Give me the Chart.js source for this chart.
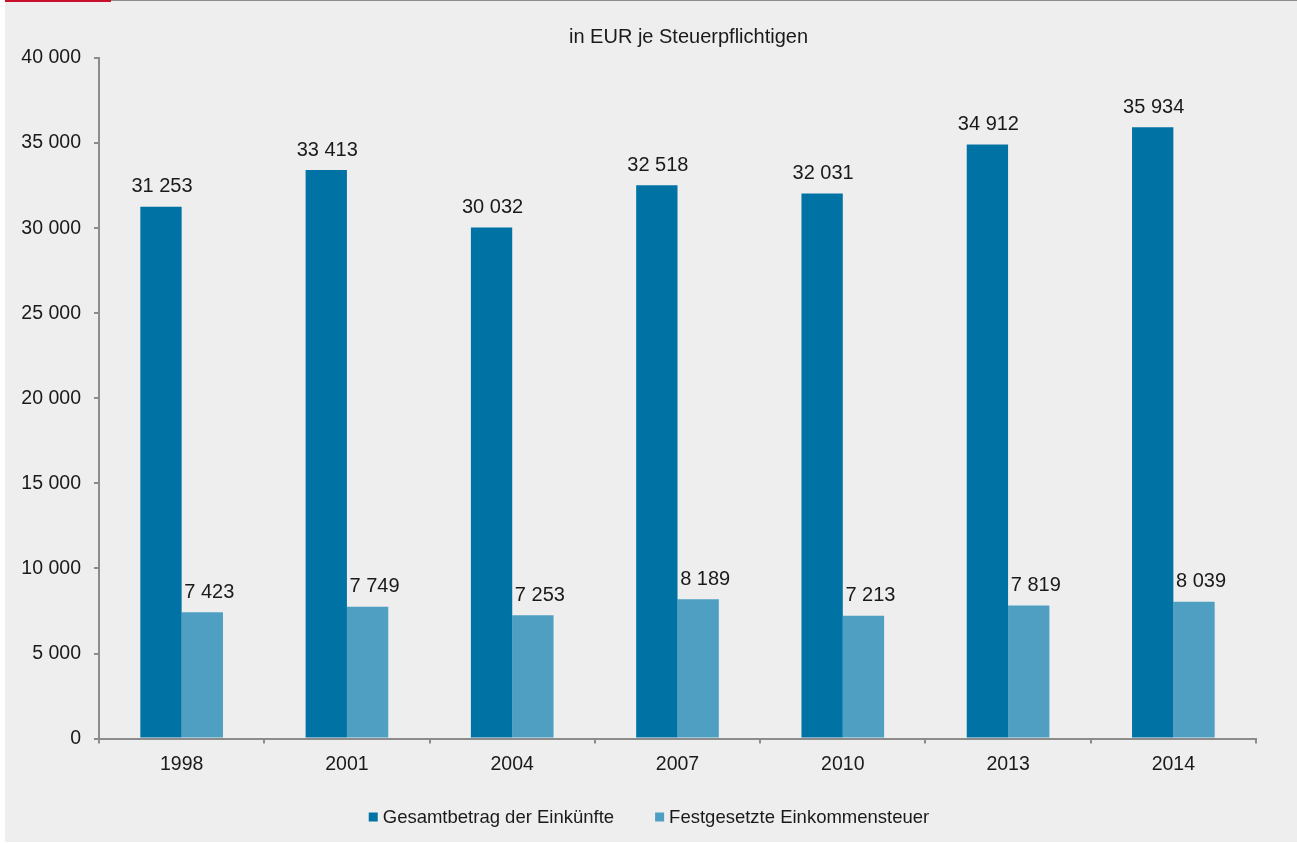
<!DOCTYPE html>
<html>
<head>
<meta charset="utf-8">
<script src="https://cdn.jsdelivr.net/npm/chart.js@4/dist/chart.umd.min.js"></script>
<style>
  body { margin: 0; background: #ffffff; }
  #panel { position: absolute; left: 5px; top: 0; width: 1292px; height: 842px; background: #eeeeee; }
  #topline { position: absolute; left: 0; top: 0; width: 1292px; height: 1px; background: #8c8c8c; }
  #redline { position: absolute; left: 0; top: 0; width: 106px; height: 2px; background: #c8102e; }
  canvas { position: absolute; left: 0; top: 0; }
</style>
</head>
<body>
<div id="panel">
  <canvas id="chart" width="1292" height="842"></canvas>
  <div id="topline"></div>
  <div id="redline"></div>
</div>
<script>
// ===== Data =====
const years = ['1998', '2001', '2004', '2007', '2010', '2013', '2014'];
const gesamtbetrag = [31253, 33413, 30032, 32518, 32031, 34912, 35934];
const festgesetzt = [7423, 7749, 7253, 8189, 7213, 7819, 8039];
const seriesNames = ['Gesamtbetrag der Einkünfte', 'Festgesetzte Einkommensteuer'];
const titleText = 'in EUR je Steuerpflichtigen';

const FONT = "'Liberation Sans', Arial, Helvetica, sans-serif";
const TEXT = '#1a1a1a';
const AXIS = '#8c8c8c';
const DARK = '#0072a4';
const LIGHT = '#4f9fc2';

function fmt(v) {
  return String(v).replace(/\B(?=(\d{3})+(?!\d))/g, ' ');
}

// value labels above each bar
const valueLabels = {
  id: 'valueLabels',
  afterDatasetsDraw(chart) {
    const ctx = chart.ctx;
    ctx.save();
    ctx.font = '20px ' + FONT;
    ctx.fillStyle = TEXT;
    ctx.textAlign = 'center';
    ctx.textBaseline = 'middle';
    chart.data.datasets.forEach((ds, i) => {
      const meta = chart.getDatasetMeta(i);
      const dx = i === 1 ? 7 : 1;
      meta.data.forEach((bar, j) => {
        ctx.fillText(fmt(ds.data[j]), bar.x + dx, bar.y - 20);
      });
    });
    ctx.restore();
  }
};

// title sits a bit right of the canvas centre, like the original
const topTitle = {
  id: 'topTitle',
  afterDraw(chart) {
    const ctx = chart.ctx;
    ctx.save();
    ctx.font = '20px ' + FONT;
    ctx.fillStyle = TEXT;
    ctx.textAlign = 'center';
    ctx.textBaseline = 'middle';
    ctx.fillText(titleText, (chart.chartArea.left + chart.chartArea.right) / 2 + 11, 37);
    ctx.restore();
  }
};

// legend with small squares, close to text
const squareLegend = {
  id: 'squareLegend',
  afterDraw(chart) {
    const ctx = chart.ctx;
    const box = 9, gap = 5, between = 41;
    ctx.save();
    ctx.font = '18.5px ' + FONT;
    ctx.textBaseline = 'middle';
    const widths = chart.data.datasets.map(ds => box + gap + ctx.measureText(ds.label).width);
    const total = widths.reduce((a, b) => a + b, 0) + between * (widths.length - 1);
    let x = chart.width / 2 - total / 2 - 2;
    const y = 817;
    chart.data.datasets.forEach((ds, i) => {
      ctx.fillStyle = ds.backgroundColor;
      ctx.fillRect(x, y - box / 2, box, box);
      ctx.fillStyle = TEXT;
      ctx.textAlign = 'left';
      ctx.fillText(ds.label, x + box + gap, y + 1);
      x += widths[i] + between;
    });
    ctx.restore();
  }
};

new Chart(document.getElementById('chart'), {
  type: 'bar',
  data: {
    labels: years,
    datasets: [
      { label: seriesNames[0], data: gesamtbetrag, backgroundColor: DARK },
      { label: seriesNames[1], data: festgesetzt, backgroundColor: LIGHT },
    ],
  },
  options: {
    responsive: false,
    animation: false,
    devicePixelRatio: 1,
    categoryPercentage: 0.5,
    barPercentage: 1.0,
    layout: { padding: { left: 0, right: 41, top: 58, bottom: 57 } },
    plugins: {
      legend: { display: false },
      tooltip: { enabled: false },
      title: { display: false },
    },
    scales: {
      x: {
        grid: { offset: true, drawOnChartArea: false, tickLength: 5, color: AXIS, lineWidth: 2 },
        border: { color: AXIS, width: 2 },
        ticks: { color: TEXT, font: { family: FONT, size: 19.5 }, padding: 9 },
      },
      y: {
        min: 0,
        max: 40000,
        afterFit: (scale) => { scale.width = 94; },
        grid: { drawOnChartArea: false, tickLength: 5, color: AXIS, lineWidth: 2 },
        border: { color: AXIS, width: 2 },
        ticks: {
          stepSize: 5000,
          color: TEXT,
          padding: 13,
          font: { family: FONT, size: 19.5 },
          callback: (v) => fmt(v),
        },
      },
    },
  },
  plugins: [valueLabels, topTitle, squareLegend],
});
</script>
</body>
</html>
